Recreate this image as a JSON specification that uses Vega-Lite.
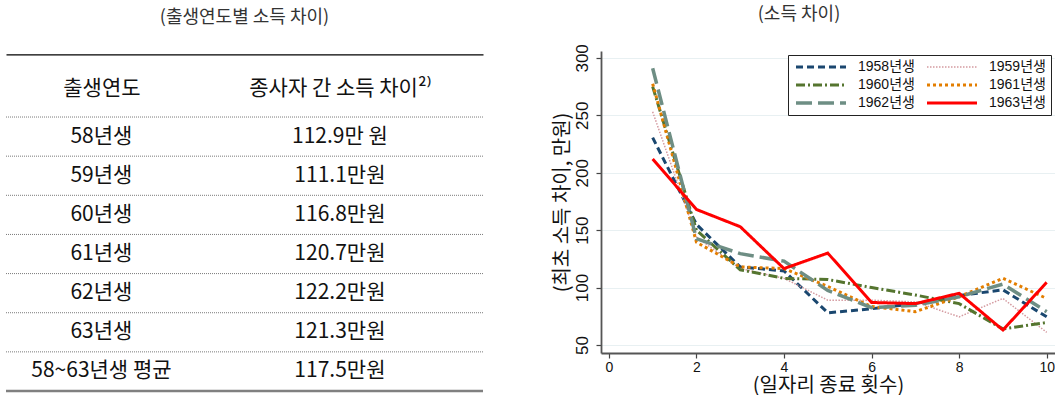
{
  "$schema": "https://vega.github.io/schema/vega-lite/v6.json",
  "padding": {"left": 4, "top": 6, "right": 0, "bottom": 0},
  "background": "white",
  "config": {
    "view": {"stroke": null},
    "concat": {"spacing": 118},
    "title": {"fontWeight": "normal", "font": "Noto Sans CJK KR", "color": "#333333"}
  },
  "bounds": "flush",
  "resolve": {"legend": {"color": "independent", "strokeDash": "independent", "strokeWidth": "independent"}},
  "datasets": {
    "table": [
      {"birth": "58년생", "gap": "112.9만 원"},
      {"birth": "59년생", "gap": "111.1만원"},
      {"birth": "60년생", "gap": "116.8만원"},
      {"birth": "61년생", "gap": "120.7만원"},
      {"birth": "62년생", "gap": "122.2만원"},
      {"birth": "63년생", "gap": "121.3만원"},
      {"birth": "58~63년생 평균", "gap": "117.5만원"}
    ],
    "lines": [
      {"cohort": "1958년생", "n": 1, "gap": 230.5},
      {"cohort": "1958년생", "n": 2, "gap": 155},
      {"cohort": "1958년생", "n": 3, "gap": 118},
      {"cohort": "1958년생", "n": 4, "gap": 114.5},
      {"cohort": "1958년생", "n": 5, "gap": 78},
      {"cohort": "1958년생", "n": 6, "gap": 81.5},
      {"cohort": "1958년생", "n": 7, "gap": 86},
      {"cohort": "1958년생", "n": 8, "gap": 93},
      {"cohort": "1958년생", "n": 9, "gap": 98},
      {"cohort": "1958년생", "n": 10, "gap": 74.5},
      {"cohort": "1959년생", "n": 1, "gap": 253},
      {"cohort": "1959년생", "n": 2, "gap": 144},
      {"cohort": "1959년생", "n": 3, "gap": 116.5},
      {"cohort": "1959년생", "n": 4, "gap": 108},
      {"cohort": "1959년생", "n": 5, "gap": 89},
      {"cohort": "1959년생", "n": 6, "gap": 89},
      {"cohort": "1959년생", "n": 7, "gap": 87.5},
      {"cohort": "1959년생", "n": 8, "gap": 74.5},
      {"cohort": "1959년생", "n": 9, "gap": 90.5},
      {"cohort": "1959년생", "n": 10, "gap": 61},
      {"cohort": "1960년생", "n": 1, "gap": 275},
      {"cohort": "1960년생", "n": 2, "gap": 150},
      {"cohort": "1960년생", "n": 3, "gap": 115.5},
      {"cohort": "1960년생", "n": 4, "gap": 108},
      {"cohort": "1960년생", "n": 5, "gap": 107},
      {"cohort": "1960년생", "n": 6, "gap": 100},
      {"cohort": "1960년생", "n": 7, "gap": 93.5},
      {"cohort": "1960년생", "n": 8, "gap": 86},
      {"cohort": "1960년생", "n": 9, "gap": 64},
      {"cohort": "1960년생", "n": 10, "gap": 69.5},
      {"cohort": "1961년생", "n": 1, "gap": 277.5},
      {"cohort": "1961년생", "n": 2, "gap": 139.5},
      {"cohort": "1961년생", "n": 3, "gap": 118},
      {"cohort": "1961년생", "n": 4, "gap": 116.5},
      {"cohort": "1961년생", "n": 5, "gap": 101},
      {"cohort": "1961년생", "n": 6, "gap": 83.5},
      {"cohort": "1961년생", "n": 7, "gap": 79},
      {"cohort": "1961년생", "n": 8, "gap": 92},
      {"cohort": "1961년생", "n": 9, "gap": 108},
      {"cohort": "1961년생", "n": 10, "gap": 90.5},
      {"cohort": "1962년생", "n": 1, "gap": 291},
      {"cohort": "1962년생", "n": 2, "gap": 142.5},
      {"cohort": "1962년생", "n": 3, "gap": 129.5},
      {"cohort": "1962년생", "n": 4, "gap": 123},
      {"cohort": "1962년생", "n": 5, "gap": 97.5},
      {"cohort": "1962년생", "n": 6, "gap": 82.5},
      {"cohort": "1962년생", "n": 7, "gap": 84.5},
      {"cohort": "1962년생", "n": 8, "gap": 92},
      {"cohort": "1962년생", "n": 9, "gap": 103},
      {"cohort": "1962년생", "n": 10, "gap": 79},
      {"cohort": "1963년생", "n": 1, "gap": 212},
      {"cohort": "1963년생", "n": 2, "gap": 168},
      {"cohort": "1963년생", "n": 3, "gap": 153},
      {"cohort": "1963년생", "n": 4, "gap": 116.5},
      {"cohort": "1963년생", "n": 5, "gap": 130},
      {"cohort": "1963년생", "n": 6, "gap": 87},
      {"cohort": "1963년생", "n": 7, "gap": 86},
      {"cohort": "1963년생", "n": 8, "gap": 95},
      {"cohort": "1963년생", "n": 9, "gap": 63},
      {"cohort": "1963년생", "n": 10, "gap": 104.5}
    ]
  },
  "hconcat": [
    {
      "width": 477,
      "height": 340,
      "title": {"text": "(출생연도별 소득 차이)", "fontSize": 18, "baseline": "middle", "offset": 15, "anchor": "middle"},
      "data": {"name": "table"},
      "layer": [
        {
          "mark": {"type": "rule", "color": "#7a7a7a", "strokeWidth": 1, "strokeDash": [1, 1]},
          "encoding": {
            "y": {"field": "birth", "type": "nominal", "bandPosition": 0, "sort": null,
                  "scale": {"type": "band", "paddingInner": 0, "paddingOuter": 0.8435, "align": 1},
                  "axis": null}
          }
        },
        {
          "transform": [{"filter": "datum.birth == '58~63년생 평균'"}],
          "mark": {"type": "rule", "color": "#808080", "strokeWidth": 2.7},
          "encoding": {
            "y": {"field": "birth", "type": "nominal", "bandPosition": 1, "sort": null}
          }
        },
        {
          "mark": {"type": "text", "font": "Noto Sans CJK KR", "fontSize": 21, "color": "#111111", "align": "center", "baseline": "middle"},
          "encoding": {
            "x": {"datum": "출생연도", "type": "nominal",
                  "scale": {"type": "point", "domain": ["출생연도", "종사자 간 소득 차이²⁾"], "padding": 0.5, "align": 0.4},
                  "axis": {"orient": "top", "title": null, "offset": -3.3, "ticks": false, "tickSize": 0,
                           "domain": true, "domainColor": "#000000", "domainWidth": 1.2,
                           "labelFont": "Noto Sans CJK KR", "labelFontSize": 21, "labelColor": "#111111",
                           "labelPadding": -34, "labelBaseline": "middle", "labelAngle": 0, "labelAlign": "center",
                           "labelLimit": 400, "labelOverlap": false, "grid": false}},
            "y": {"field": "birth", "type": "nominal", "bandPosition": 0.5, "sort": null},
            "text": {"field": "birth"}
          }
        },
        {
          "mark": {"type": "text", "font": "Noto Sans CJK KR", "fontSize": 21, "color": "#111111", "align": "center", "baseline": "middle"},
          "encoding": {
            "x": {"datum": "종사자 간 소득 차이²⁾", "type": "nominal"},
            "y": {"field": "birth", "type": "nominal", "bandPosition": 0.5, "sort": null},
            "text": {"field": "gap"}
          }
        }
      ]
    },
    {
      "width": 454,
      "height": 302,
      "title": {"text": "(소득 차이)", "fontSize": 18, "baseline": "middle", "offset": 10.7, "anchor": "middle", "dx": -29},
      "data": {"name": "lines"},
      "mark": {"type": "line", "clip": true},
      "encoding": {
        "x": {"field": "n", "type": "quantitative",
              "scale": {"domain": [-0.18, 10.19], "nice": false, "zero": false},
              "axis": {"values": [0, 2, 4, 6, 8, 10], "grid": false, "title": "(일자리 종료 횟수)",
                       "titleFont": "Noto Sans CJK KR", "titleFontSize": 20, "titleFontWeight": "normal", "titleColor": "#111111", "titlePadding": 1,
                       "labelFont": "Liberation Sans", "labelFontSize": 14, "labelColor": "#111111", "labelPadding": 2,
                       "tickSize": 5, "tickColor": "#444444", "tickWidth": 1.2,
                       "domainColor": "#555555", "domainWidth": 1.8, "labelFlush": false}},
        "y": {"field": "gap", "type": "quantitative",
              "scale": {"domain": [43, 306], "nice": false, "zero": false},
              "axis": {"values": [50, 100, 150, 200, 250, 300], "grid": true, "gridColor": "#e8f0f2", "gridWidth": 1.2,
                       "title": "(최초 소득 차이, 만원)",
                       "titleFont": "Noto Sans CJK KR", "titleFontSize": 20, "titleFontWeight": "normal", "titleColor": "#111111", "titlePadding": 1,
                       "labelFont": "Liberation Sans", "labelFontSize": 17, "labelColor": "#111111", "labelPadding": 5,
                       "labelAngle": -90, "labelAlign": "center", "labelBaseline": "bottom",
                       "tickSize": 5, "tickColor": "#444444", "tickWidth": 1.2,
                       "domainColor": "#555555", "domainWidth": 1.8, "labelFlush": false}},
        "color": {"field": "cohort", "type": "nominal",
                  "scale": {"domain": ["1958년생", "1959년생", "1960년생", "1961년생", "1962년생", "1963년생"],
                            "range": ["#1a476f", "#d49aa0", "#55752f", "#e37e00", "#6e8e84", "#ff0000"]},
                  "legend": {"orient": "top-right", "offset": 4, "columns": 2, "direction": "horizontal", "title": null,
                             "symbolType": "M-1,0H11.5", "symbolSize": 64, "symbolStrokeWidth": 3, "symbolFillColor": "transparent",
                             "labelFont": "Liberation Sans, Noto Sans CJK KR", "labelFontSize": 14, "labelColor": "#111111",
                             "labelOffset": 51, "columnPadding": 6, "rowPadding": 4, "padding": 5,
                             "strokeColor": "#222222", "fillColor": "#ffffff", "labelLimit": 200}},
        "strokeDash": {"field": "cohort", "type": "nominal",
                       "scale": {"domain": ["1958년생", "1959년생", "1960년생", "1961년생", "1962년생", "1963년생"],
                                 "range": [[7, 4], [1.5, 1.5], [9, 3, 2, 3], [3, 3], [16, 6], [1, 0]]}},
        "strokeWidth": {"field": "cohort", "type": "nominal",
                        "scale": {"type": "ordinal", "domain": ["1958년생", "1959년생", "1960년생", "1961년생", "1962년생", "1963년생"],
                                  "range": [3, 1.5, 3, 3, 3.5, 3]}}
      }
    }
  ]
}
